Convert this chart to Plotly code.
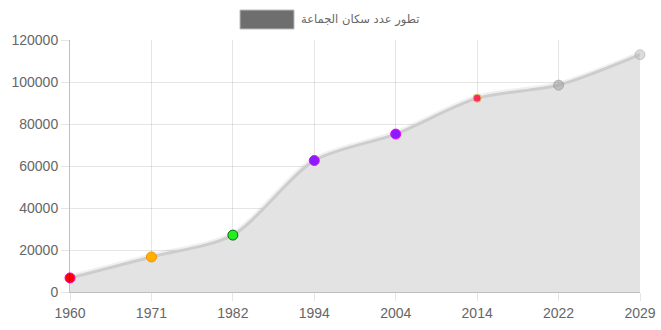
import plotly.graph_objects as go

years = ["1960", "1971", "1982", "1994", "2004", "2014", "2022", "2029"]
population = [6700, 16700, 27100, 62600, 75200, 92300, 98500, 113000]
marker_fill = ["#ff0000", "#ffb000", "#22ee22", "#8a1cff", "#8a1cff", "#ff2a55", "rgba(160,160,160,0.55)", "rgba(190,190,190,0.55)"]
marker_line = ["#ff00cc", "#ff8c00", "#116611", "#ee00ff", "#ee00ff", "#d8c070", "rgba(140,140,140,0.55)", "rgba(170,170,170,0.55)"]
marker_size = [10, 10, 10, 10, 10, 8, 10, 10]
y_ticks = [0, 20000, 40000, 60000, 80000, 100000, 120000]
legend_label = "تطور عدد سكان الجماعة"

fig = go.Figure()
# shadow line
fig.add_trace(go.Scatter(
    x=years, y=population, mode="lines",
    line=dict(color="rgba(0,0,0,0.06)", width=7, shape="spline", smoothing=0.8),
    hoverinfo="skip", showlegend=False, cliponaxis=False))
fig.add_trace(go.Scatter(
    x=years, y=population, mode="lines+markers",
    fill="tozeroy", fillcolor="#e3e3e3",
    line=dict(color="rgba(205,205,205,1)", width=3, shape="spline", smoothing=0.8),
    marker=dict(color=marker_fill, size=marker_size, opacity=1,
                line=dict(color=marker_line, width=1)),
    showlegend=False, cliponaxis=False))

fig.update_layout(
    width=661, height=330,
    margin=dict(l=70, r=21, t=40, b=38, autoexpand=False),
    paper_bgcolor="white", plot_bgcolor="white",
    font=dict(family="Liberation Sans, Arial, sans-serif", size=14, color="#666"),
    xaxis=dict(type="category", range=[0, 7], showgrid=True, gridcolor="rgba(0,0,0,0.1)",
               showline=True, linecolor="rgba(0,0,0,0.25)", ticks="outside", ticklen=8,
               tickcolor="rgba(0,0,0,0.1)", zeroline=False, automargin=False,
               tickfont=dict(size=14, color="#666")),
    yaxis=dict(range=[0, 120000], tickvals=y_ticks, showgrid=True, gridcolor="rgba(0,0,0,0.1)",
               showline=True, linecolor="rgba(0,0,0,0.25)", ticks="outside", ticklen=8,
               tickcolor="rgba(0,0,0,0.1)", zeroline=False, tickformat="d", automargin=False,
               tickfont=dict(size=14, color="#666")),
    shapes=[dict(type="rect", xref="paper", yref="paper",
                 x0=(240 - 70) / 570, x1=(294 - 70) / 570,
                 y0=(292 - 29) / 252, y1=(292 - 10) / 252,
                 fillcolor="#6e6e6e", line=dict(color="#bbbbbb", width=1))],
    annotations=[dict(text=legend_label, xref="paper", yref="paper",
                      x=(299 - 70) / 570, y=(292 - 19.5) / 252, xanchor="left", yanchor="middle",
                      showarrow=False, font=dict(size=11.5, color="#666",
                                                  family="DejaVu Sans, Liberation Sans, sans-serif"))],
)

fig.write_html("out.html")
